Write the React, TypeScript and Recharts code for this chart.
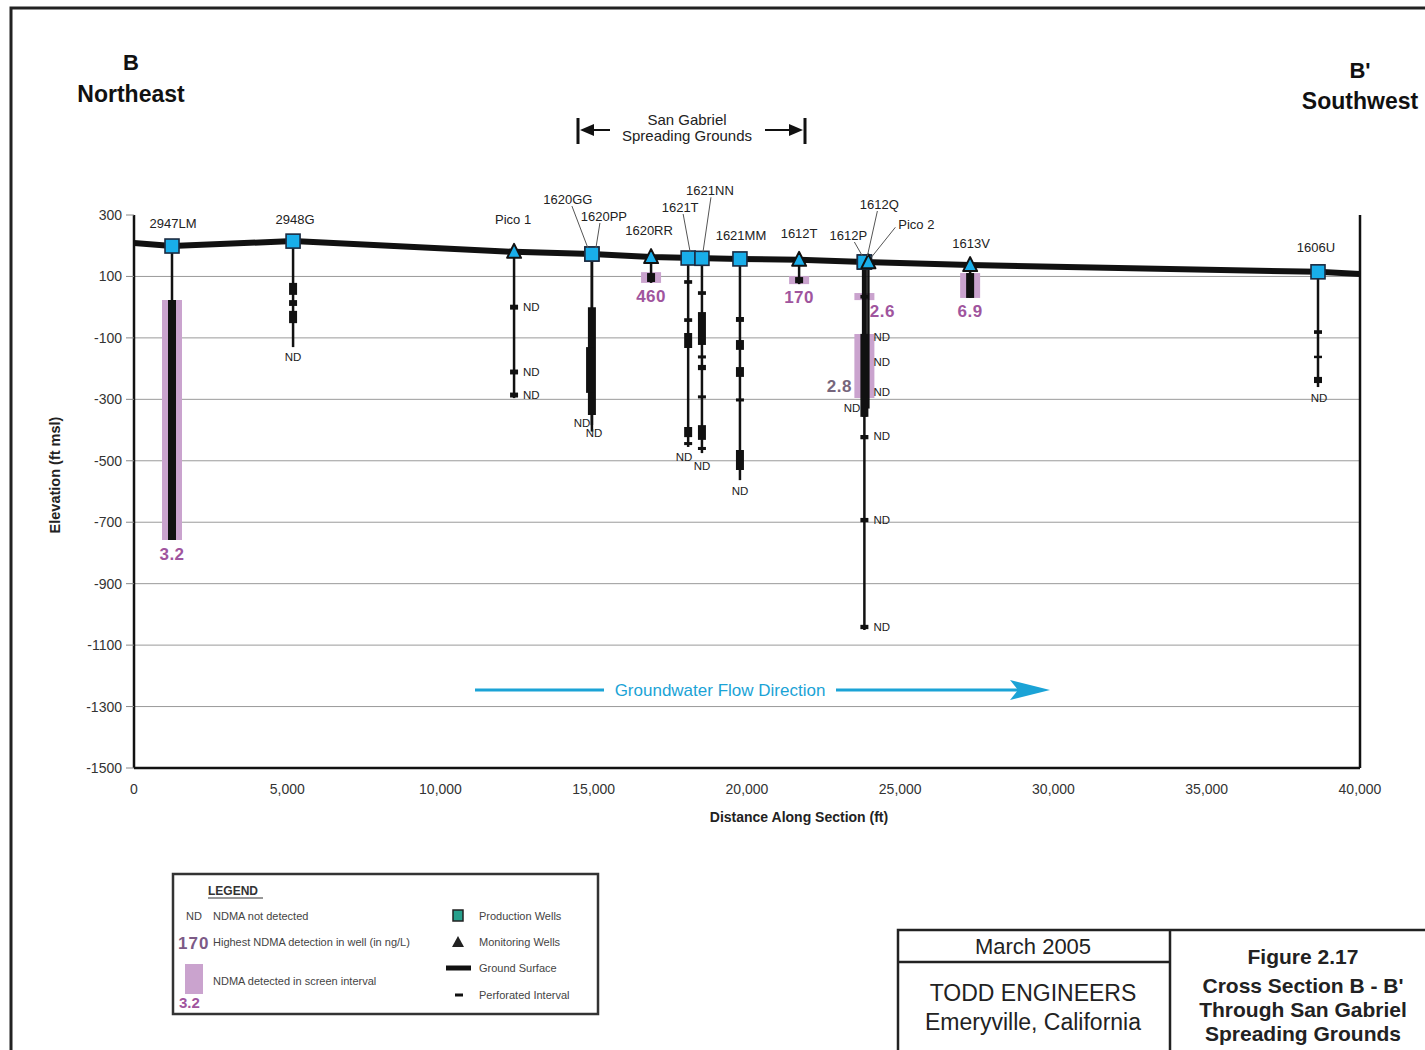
import React from 'react';
import { ComposedChart, XAxis, YAxis, Scatter, ReferenceLine } from 'recharts';

// ---------- data (feet / ft msl) ----------
const xTicks = [0, 5000, 10000, 15000, 20000, 25000, 30000, 35000, 40000];
const yTicks = [300, 100, -100, -300, -500, -700, -900, -1100, -1300, -1500];
const gridLevels = [100, -100, -300, -500, -700, -900, -1100, -1300];

const groundSurface = [
  { x: 0, y: 209 }, { x: 1240, y: 199 }, { x: 5190, y: 215 }, { x: 12400, y: 180 },
  { x: 14940, y: 173 }, { x: 16870, y: 163 }, { x: 18300, y: 160 }, { x: 19770, y: 157 },
  { x: 21700, y: 154 }, { x: 23830, y: 147 }, { x: 27280, y: 137 }, { x: 38630, y: 115 },
  { x: 40000, y: 108 },
];

const wells = [
  { name: '2947LM', x: 1240, y: 199, bottom: -758, type: 'production' },
  { name: '2948G', x: 5190, y: 215, bottom: -130, type: 'production' },
  { name: 'Pico 1', x: 12400, y: 180, bottom: -296, type: 'monitoring' },
  { name: '1620GG', x: 14940, y: 173, bottom: -384, type: 'production' },
  { name: '1620PP', x: 14940, y: 173, bottom: -405, type: 'production' },
  { name: '1620RR', x: 16870, y: 163, bottom: 79, type: 'monitoring' },
  { name: '1621T', x: 18080, y: 160, bottom: -455, type: 'production' },
  { name: '1621NN', x: 18530, y: 159, bottom: -475, type: 'production' },
  { name: '1621MM', x: 19770, y: 157, bottom: -563, type: 'production' },
  { name: '1612T', x: 21700, y: 154, bottom: 75, type: 'monitoring' },
  { name: '1612P', x: 23830, y: 147, bottom: -1051, type: 'production' },
  { name: '1612Q', x: 23830, y: 147, bottom: -357, type: 'production' },
  { name: 'Pico 2', x: 23960, y: 146, bottom: -330, type: 'monitoring' },
  { name: '1613V', x: 27280, y: 137, bottom: 30, type: 'monitoring' },
  { name: '1606U', x: 38630, y: 115, bottom: -260, type: 'production' },
];

const screens = [
  { x: 1240, top: 23, bottom: -758 },
  { x: 16870, top: 114, bottom: 79 },
  { x: 21700, top: 101, bottom: 75 },
  { x: 23830, top: 46, bottom: 23 },
  { x: 23830, top: -87, bottom: -296 },
  { x: 27280, top: 111, bottom: 30 },
];

const perforations = [
  { x: 1240, top: 23, bottom: -758 },
  { x: 5190, top: 79, bottom: 40 }, { x: 5190, top: 23, bottom: 4 }, { x: 5190, top: -12, bottom: -52 },
  { x: 12400, top: 8, bottom: -8 }, { x: 12400, top: -203, bottom: -219 }, { x: 12400, top: -278, bottom: -294 },
  { x: 14940, top: 0, bottom: -351 }, { x: 14880, top: -130, bottom: -279 },
  { x: 16870, top: 111, bottom: 82 },
  { x: 18080, top: 88, bottom: 76 }, { x: 18080, top: -36, bottom: -48 }, { x: 18080, top: -84, bottom: -133 },
  { x: 18080, top: -390, bottom: -423 }, { x: 18080, top: -439, bottom: -449 },
  { x: 18530, top: 52, bottom: 40 }, { x: 18530, top: -16, bottom: -123 }, { x: 18530, top: -157, bottom: -167 },
  { x: 18530, top: -188, bottom: -205 }, { x: 18530, top: -287, bottom: -297 }, { x: 18530, top: -384, bottom: -432 },
  { x: 18530, top: -455, bottom: -465 },
  { x: 19770, top: -32, bottom: -48 }, { x: 19770, top: -107, bottom: -139 }, { x: 19770, top: -195, bottom: -227 },
  { x: 19770, top: -297, bottom: -307 }, { x: 19770, top: -465, bottom: -530 },
  { x: 21700, top: 98, bottom: 78 },
  { x: 23830, top: 40, bottom: 28 }, { x: 23830, top: -87, bottom: -357 }, { x: 23830, top: -416, bottom: -430 },
  { x: 23830, top: -686, bottom: -700 }, { x: 23830, top: -1034, bottom: -1048 },
  { x: 27280, top: 111, bottom: 30 },
  { x: 38630, top: -75, bottom: -87 }, { x: 38630, top: -158, bottom: -166 }, { x: 38630, top: -227, bottom: -247 },
];

const ndLabels = [
  { x: 5188, y: -162, side: 'center' },
  { x: 12400, y: 0, side: 'right' }, { x: 12400, y: -211, side: 'right' }, { x: 12400, y: -286, side: 'right' },
  { x: 14617, y: -377, side: 'center' }, { x: 15008, y: -410, side: 'center' },
  { x: 17945, y: -488, side: 'center' }, { x: 18532, y: -517, side: 'center' },
  { x: 19772, y: -598, side: 'center' },
  { x: 23830, y: -97, side: 'right' }, { x: 23830, y: -178, side: 'right' }, { x: 23830, y: -276, side: 'right' },
  { x: 23830, y: -328, side: 'left' }, { x: 23830, y: -419, side: 'right' }, { x: 23830, y: -693, side: 'right' },
  { x: 23830, y: -1041, side: 'right' },
  { x: 38662, y: -296, side: 'center' },
];

const detections = [
  { x: 1240, y: -758, value: '3.2' },
  { x: 16870, y: 79, value: '460' },
  { x: 21700, y: 75, value: '170' },
  { x: 23830, y: 23, value: '2.6' },
  { x: 23830, y: -296, value: '2.8' },
  { x: 27280, y: 30, value: '6.9' },
];

// ---------- layout / styles ----------
const FONT = '"Liberation Sans", Arial, Helvetica, sans-serif';
const BLUE = '#19aeea';
const PURPLE = '#a0559e';
const PINK = '#caa3ce';

const labelLayout: Record<string, { dx: number; dy: number; leader?: number[] }> = {
  '2947LM': { dx: 1, dy: -23 },
  '2948G': { dx: 2, dy: -22 },
  'Pico 1': { dx: -1, dy: -32 },
  '1620GG': { dx: -24, dy: -55, leader: [-20, -48, -4, -6] },
  '1620PP': { dx: 12, dy: -38, leader: [8, -31, 4, -6] },
  '1620RR': { dx: -2, dy: -27 },
  '1621T': { dx: -8, dy: -51, leader: [-5, -44, 2, -6] },
  '1621NN': { dx: 8, dy: -68, leader: [9, -61, 1, -6] },
  '1621MM': { dx: 1, dy: -23 },
  '1612T': { dx: 0, dy: -26 },
  '1612P': { dx: -16, dy: -27, leader: [-10, -20, -2, -6] },
  '1612Q': { dx: 15, dy: -58, leader: [13, -51, 3, -6] },
  'Pico 2': { dx: 48, dy: -38, leader: [27, -35, 3, -5] },
  '1613V': { dx: 1, dy: -22 },
  '1606U': { dx: -2, dy: -24 },
};

const detectionLayout: Record<string, { dx: number; dy: number; color: string }> = {
  '3.2': { dx: 0, dy: 14, color: PURPLE },
  '460': { dx: 0, dy: 14, color: PURPLE },
  '170': { dx: 0, dy: 13, color: PURPLE },
  '2.6': { dx: 18, dy: 11, color: PURPLE },
  '2.8': { dx: -25, dy: -12, color: '#76667c' },
  '6.9': { dx: 0, dy: 14, color: PURPLE },
};

const Empty = () => <g />;

const WellMarker = (props: any) => {
  const { cx, cy, payload } = props;
  if (cx == null || cy == null) return <g />;
  if (payload.type === 'production') {
    return <rect x={cx - 7} y={cy - 7} width={14} height={14} fill={BLUE} stroke="#1b2a40" strokeWidth={1.6} />;
  }
  return (
    <polygon
      points={`${cx},${cy - 8} ${cx + 7},${cy + 6} ${cx - 7},${cy + 6}`}
      fill={BLUE}
      stroke="#111"
      strokeWidth={2}
      strokeLinejoin="round"
    />
  );
};

const WellLabel = (props: any) => {
  const { cx, cy, payload } = props;
  if (cx == null || cy == null) return <g />;
  const lay = labelLayout[payload.name];
  return (
    <g>
      {lay.leader && (
        <line
          x1={cx + lay.leader[0]} y1={cy + lay.leader[1]}
          x2={cx + lay.leader[2]} y2={cy + lay.leader[3]}
          stroke="#555" strokeWidth={1}
        />
      )}
      <text x={cx + lay.dx} y={cy + lay.dy} textAnchor="middle" dominantBaseline="central" fontSize={13} fill="#222">
        {payload.name}
      </text>
    </g>
  );
};

const NdLabel = (props: any) => {
  const { cx, cy, payload } = props;
  if (cx == null || cy == null) return <g />;
  let x = cx;
  let anchor = 'middle';
  if (payload.side === 'right') { x = cx + 9; anchor = 'start'; }
  if (payload.side === 'left') { x = cx - 4; anchor = 'end'; }
  return (
    <text x={x} y={cy} textAnchor={anchor} dominantBaseline="central" fontSize={11.5} fill="#222">ND</text>
  );
};

const DetectionLabel = (props: any) => {
  const { cx, cy, payload } = props;
  if (cx == null || cy == null) return <g />;
  const lay = detectionLayout[payload.value];
  return (
    <text x={cx + lay.dx} y={cy + lay.dy} textAnchor="middle" dominantBaseline="central" fontSize={17} fontWeight="bold" fill={lay.color} letterSpacing={0.5}>
      {payload.value}
    </text>
  );
};

const Overlay = () => (
  <svg width={1425} height={1050} style={{ position: 'absolute', left: 0, top: 0, fontFamily: FONT }}>
    {/* outer frame */}
    <path d="M11 1050 V8 H1425" fill="none" stroke="#222" strokeWidth={3} />
    {/* section end labels */}
    <text x={131} y={70} textAnchor="middle" fontSize={22} fontWeight="bold" fill="#111">B</text>
    <text x={131} y={102} textAnchor="middle" fontSize={23} fontWeight="bold" fill="#111">Northeast</text>
    <text x={1360} y={78} textAnchor="middle" fontSize={22} fontWeight="bold" fill="#111">B'</text>
    <text x={1360} y={109} textAnchor="middle" fontSize={23} fontWeight="bold" fill="#111">Southwest</text>
    {/* spreading grounds bracket */}
    <path d="M578 118 V144 M805 118 V144" stroke="#111" strokeWidth={3} />
    <path d="M588 130 H610 M765 130 H797" stroke="#111" strokeWidth={2} />
    <polygon points="580,130 594,124 594,136" fill="#111" />
    <polygon points="803,130 789,124 789,136" fill="#111" />
    <text x={687} y={125} textAnchor="middle" fontSize={15} fill="#222">San Gabriel</text>
    <text x={687} y={141} textAnchor="middle" fontSize={15} fill="#222">Spreading Grounds</text>
    {/* flow direction */}
    <path d="M475 690 H604 M836 690 H1022" stroke="#1ba3d6" strokeWidth={3} />
    <polygon points="1050,690 1010,680 1018,690 1010,700" fill="#1ba3d6" />
    <text x={720} y={696} textAnchor="middle" fontSize={17} fill="#1ba3d6">Groundwater Flow Direction</text>
    {/* axis titles */}
    <text x={60} y={475} transform="rotate(-90 60 475)" textAnchor="middle" fontSize={14.5} fontWeight="bold" fill="#222">Elevation (ft msl)</text>
    <text x={799} y={822} textAnchor="middle" fontSize={14} fontWeight="bold" fill="#222">Distance Along Section (ft)</text>
    {/* legend */}
    <rect x={173} y={874} width={425} height={140} fill="none" stroke="#333" strokeWidth={2.5} />
    <text x={208} y={895} fontSize={12} fontWeight="bold" fill="#333">LEGEND</text>
    <line x1={208} y1={898} x2={263} y2={898} stroke="#333" strokeWidth={1} />
    <text x={186} y={920} fontSize={11} fill="#444">ND</text>
    <text x={213} y={920} fontSize={11} fill="#444">NDMA not detected</text>
    <text x={178} y={949} fontSize={17} fontWeight="bold" fill="#7c5a86" letterSpacing={1}>170</text>
    <text x={213} y={946} fontSize={11} fill="#444">Highest NDMA detection in well (in ng/L)</text>
    <rect x={185} y={964} width={18} height={30} fill={PINK} />
    <text x={179} y={1008} fontSize={15} fontWeight="bold" fill={PURPLE}>3.2</text>
    <text x={213} y={985} fontSize={11} fill="#444">NDMA detected in screen interval</text>
    <rect x={453} y={910} width={10} height={11} fill="#27a08c" stroke="#222" strokeWidth={1.5} />
    <text x={479} y={920} fontSize={11} fill="#444">Production Wells</text>
    <polygon points="458,936 464,947 452,947" fill="#222" />
    <text x={479} y={946} fontSize={11} fill="#444">Monitoring Wells</text>
    <line x1={446} y1={968} x2={471} y2={968} stroke="#111" strokeWidth={5} />
    <text x={479} y={972} fontSize={11} fill="#444">Ground Surface</text>
    <line x1={455} y1={995} x2={463} y2={995} stroke="#111" strokeWidth={3} />
    <text x={479} y={999} fontSize={11} fill="#444">Perforated Interval</text>
    {/* title block */}
    <path d="M898 1050 V930 H1425 M1170 930 V1050 M898 962 H1170" fill="none" stroke="#222" strokeWidth={2.5} />
    <text x={1033} y={954} textAnchor="middle" fontSize={22} fill="#222">March 2005</text>
    <text x={1033} y={1001} textAnchor="middle" fontSize={23} fill="#222">TODD ENGINEERS</text>
    <text x={1033} y={1030} textAnchor="middle" fontSize={23} fill="#222">Emeryville, California</text>
    <text x={1303} y={964} textAnchor="middle" fontSize={21} fontWeight="bold" fill="#222">Figure 2.17</text>
    <text x={1303} y={993} textAnchor="middle" fontSize={21} fontWeight="bold" fill="#222">Cross Section B - B'</text>
    <text x={1303} y={1017} textAnchor="middle" fontSize={21} fontWeight="bold" fill="#222">Through San Gabriel</text>
    <text x={1303} y={1041} textAnchor="middle" fontSize={21} fontWeight="bold" fill="#222">Spreading Grounds</text>
  </svg>
);

export default function App() {
  return (
    <div style={{ position: 'absolute', left: 0, top: 0, width: 1425, height: 1050, background: '#fff', overflow: 'hidden', fontFamily: FONT }}>
      <Overlay />
      <div style={{ position: 'absolute', left: 0, top: 0 }}>
        <ComposedChart width={1425} height={1050} margin={{ top: 215, right: 65, bottom: 252, left: 74 }} style={{ fontFamily: FONT }}>
          <XAxis
            type="number" dataKey="x" domain={[0, 40000]} ticks={xTicks} interval={0}
            tickFormatter={(v: number) => v.toLocaleString('en-US')}
            axisLine={{ stroke: '#111', strokeWidth: 2.5 }} tickLine={false} tickSize={6} tickMargin={10}
            tick={{ fontSize: 14, fill: '#333' }} height={30}
          />
          <YAxis
            type="number" dataKey="y" domain={[-1500, 300]} ticks={yTicks} interval={0}
            axisLine={{ stroke: '#111', strokeWidth: 2.5 }} tickLine={{ stroke: '#888' }} tickSize={8} tickMargin={4}
            tick={{ fontSize: 14, fill: '#333' }} width={60}
          />
          {gridLevels.map((v) => (
            <ReferenceLine key={'g' + v} y={v} stroke="#9a9a9a" strokeWidth={1} />
          ))}
          <ReferenceLine x={40000} stroke="#111" strokeWidth={2.5} />
          {screens.map((s, i) => (
            <ReferenceLine key={'s' + i} segment={[{ x: s.x, y: s.top }, { x: s.x, y: s.bottom }]} stroke={PINK} strokeWidth={20} />
          ))}
          {wells.map((w) => (
            <ReferenceLine
              key={'c' + w.name}
              segment={[{ x: w.x, y: w.y }, { x: w.x, y: w.bottom }]}
              stroke="#111"
              strokeWidth={w.name === '1612Q' ? 5 : 2.5}
            />
          ))}
          {perforations.map((p, i) => (
            <ReferenceLine key={'p' + i} segment={[{ x: p.x, y: p.top }, { x: p.x, y: p.bottom }]} stroke="#111" strokeWidth={8} />
          ))}
          <Scatter data={groundSurface} line={{ stroke: '#111', strokeWidth: 6 }} lineType="joint" shape={Empty} isAnimationActive={false} />
          <Scatter data={wells} shape={WellMarker} isAnimationActive={false} />
          <Scatter data={wells} shape={WellLabel} isAnimationActive={false} />
          <Scatter data={ndLabels} shape={NdLabel} isAnimationActive={false} />
          <Scatter data={detections} shape={DetectionLabel} isAnimationActive={false} />
        </ComposedChart>
      </div>
    </div>
  );
}
